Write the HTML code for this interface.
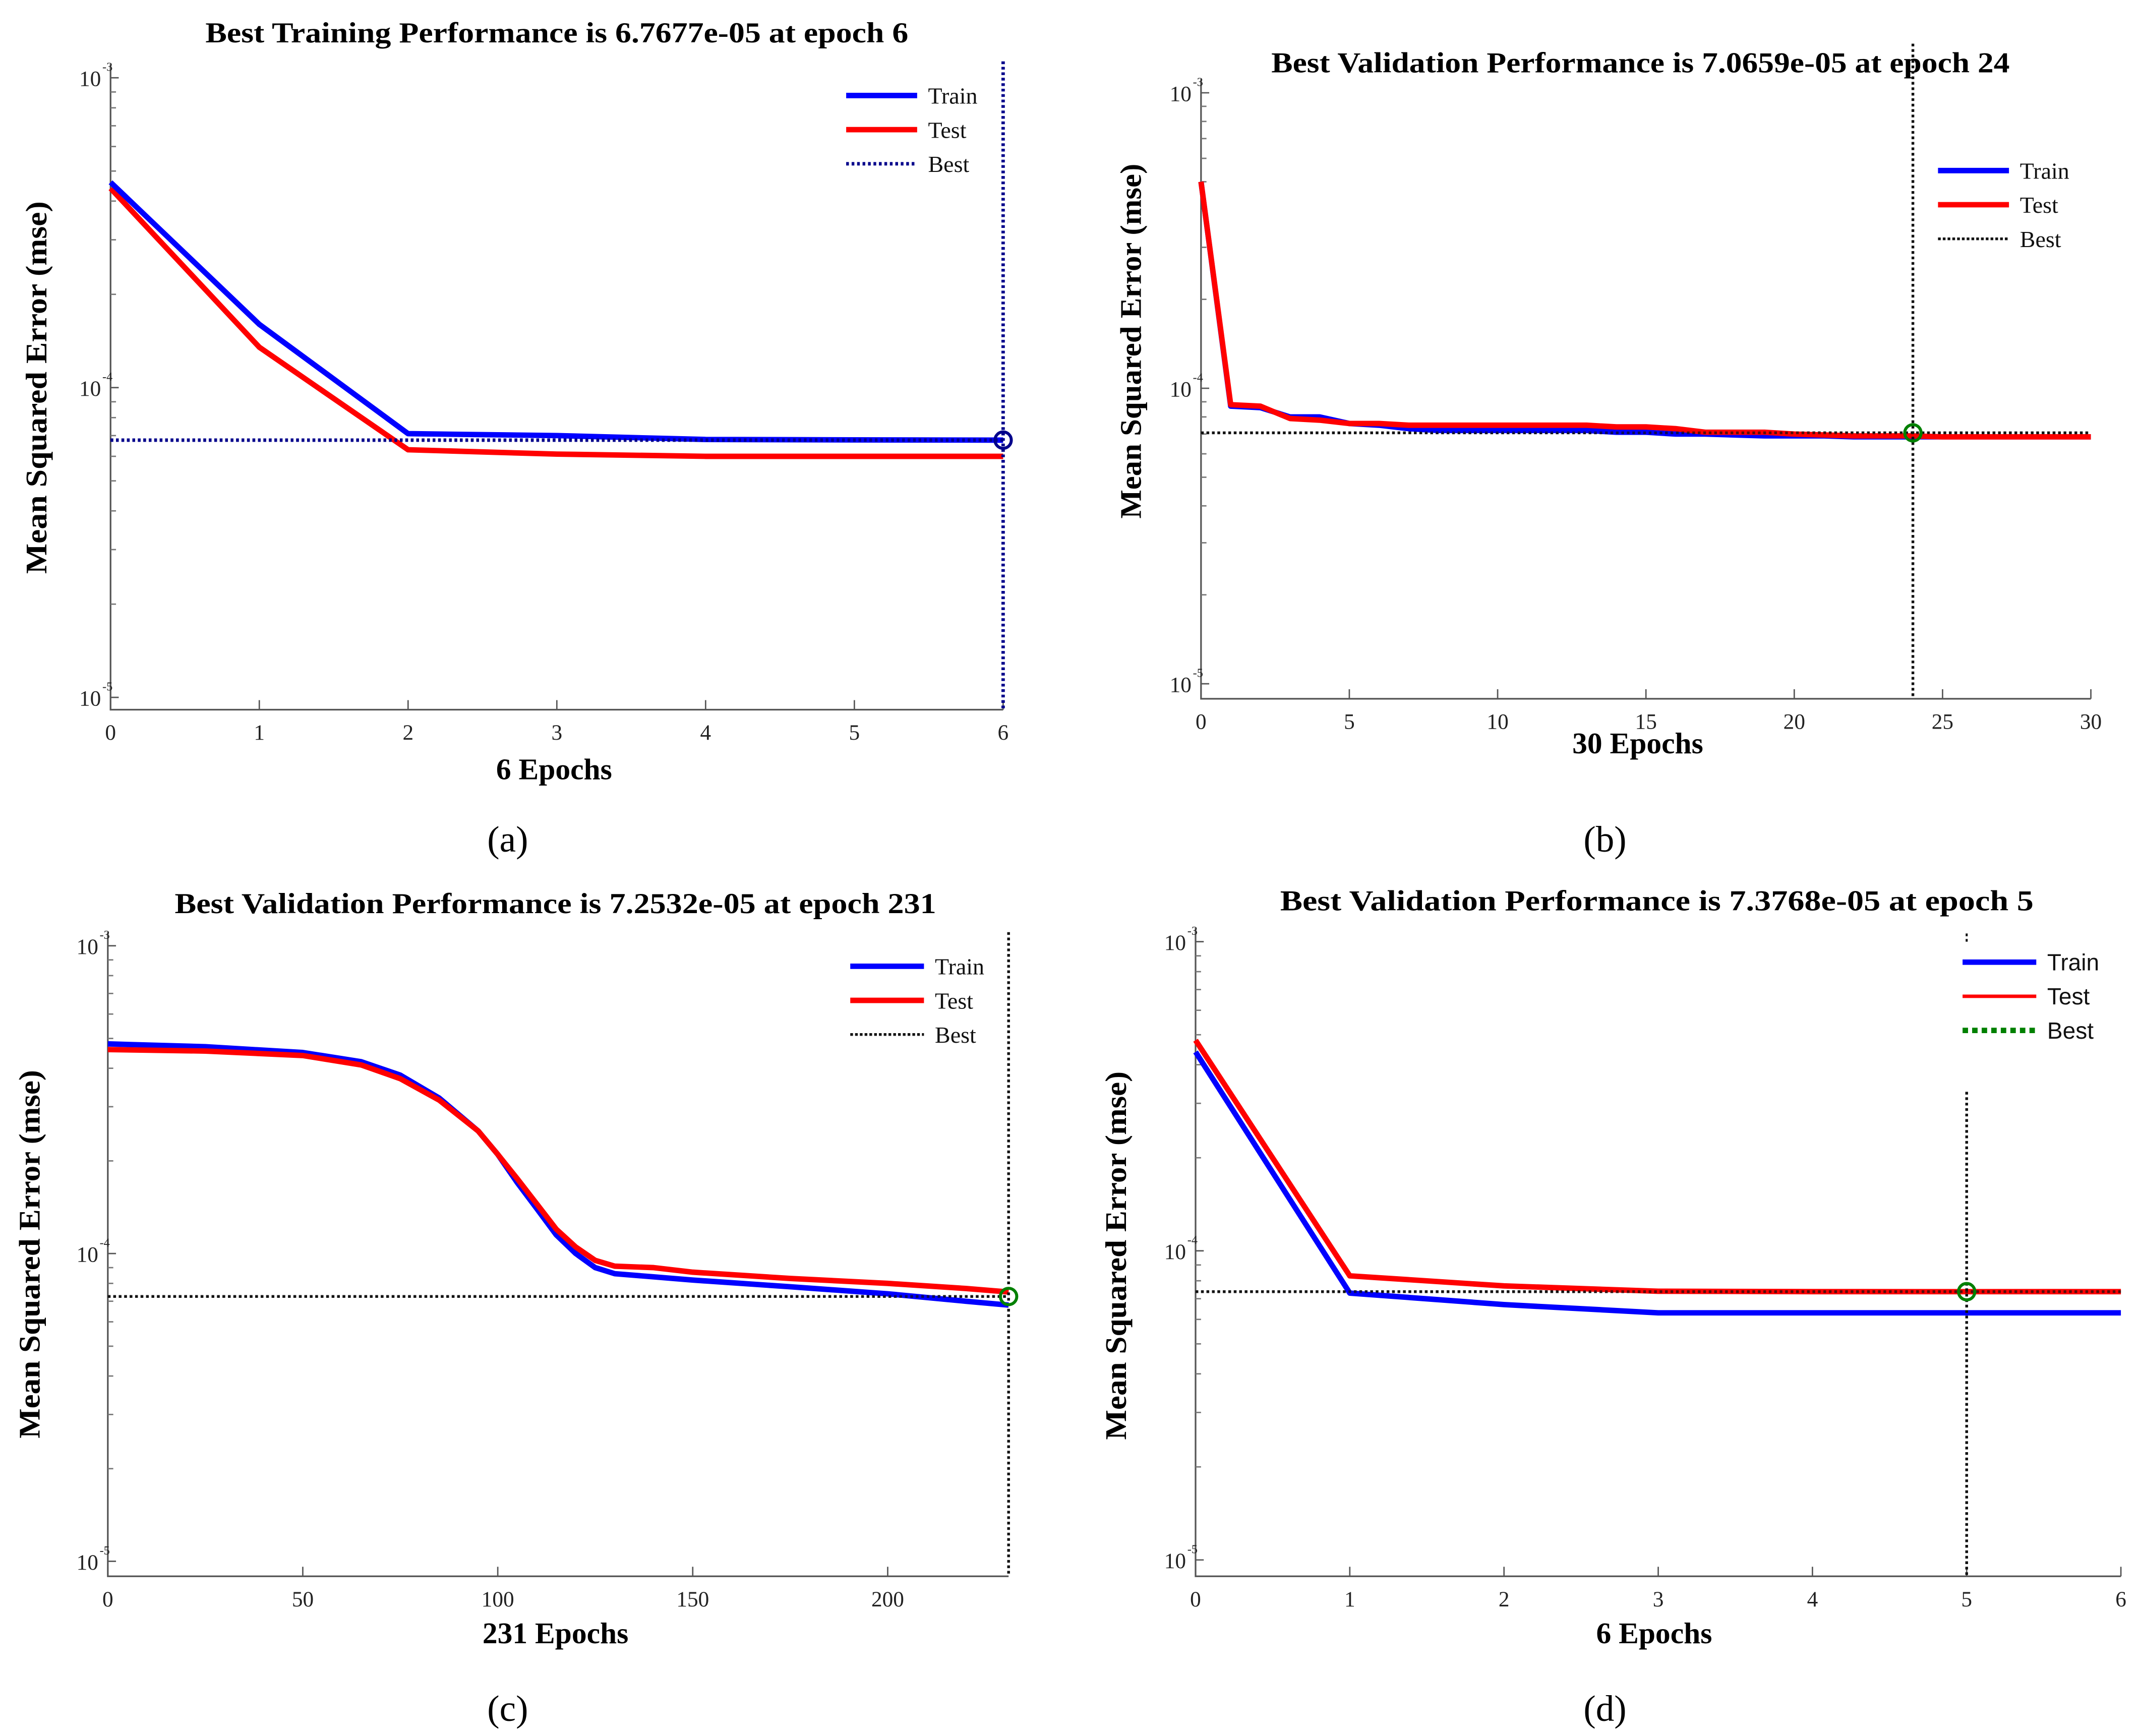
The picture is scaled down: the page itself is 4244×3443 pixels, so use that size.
<!DOCTYPE html>
<html><head><meta charset="utf-8">
<style>
html,body{margin:0;padding:0;background:#fff;}
svg{display:block;}
text{font-family:"Liberation Serif",serif;}
</style></head>
<body>
<svg id="fig" xmlns="http://www.w3.org/2000/svg" width="4244" height="3443" viewBox="0 0 1568 1272" preserveAspectRatio="none">
<rect width="1568" height="1272" fill="#fff"/>
</svg>
<script>
// ---- panel (a) data ----
const aEpochs = [0,1,2,3,4,5,6];
const aTrain = [4.6e-4,1.6e-4,7.1e-5,7.0e-5,6.8e-5,6.78e-5,6.7677e-5];
const aTest = [4.4e-4,1.35e-4,6.3e-5,6.1e-5,6.0e-5,6.0e-5,6.0e-5];
const aBest = [6, 6.7677e-5];
const aXTicks = [0,1,2,3,4,5,6];
// ---- panel (b) data ----
const bEpochs = [0,1,2,3,4,5,6,7,8,9,10,11,12,13,14,15,16,17,18,19,20,21,22,23,24,25,26,27,28,29,30];
const bTrain = [5.0e-4,8.7e-5,8.6e-5,8.0e-5,8.0e-5,7.6e-5,7.5e-5,7.3e-5,7.2e-5,7.2e-5,7.2e-5,7.2e-5,7.2e-5,7.2e-5,7.1e-5,7.1e-5,7.0e-5,7.0e-5,6.95e-5,6.9e-5,6.9e-5,6.9e-5,6.85e-5,6.85e-5,6.85e-5,6.85e-5,6.85e-5,6.85e-5,6.85e-5,6.85e-5,6.85e-5];
const bTest = [5.0e-4,8.8e-5,8.7e-5,7.9e-5,7.8e-5,7.6e-5,7.6e-5,7.5e-5,7.5e-5,7.5e-5,7.5e-5,7.5e-5,7.5e-5,7.5e-5,7.4e-5,7.4e-5,7.3e-5,7.1e-5,7.1e-5,7.1e-5,7.0e-5,6.95e-5,6.9e-5,6.9e-5,6.9e-5,6.85e-5,6.85e-5,6.85e-5,6.85e-5,6.85e-5,6.85e-5];
const bBest = [24, 7.0659e-5];
const bXTicks = [0,5,10,15,20,25,30];
// ---- panel (c) data ----
const cEpochs = [0,25,50,65,75,85,95,100,105,110,115,120,125,130,140,150,175,200,220,231];
const cTrain = [4.8e-4,4.7e-4,4.5e-4,4.2e-4,3.8e-4,3.2e-4,2.5e-4,2.1e-4,1.7e-4,1.4e-4,1.15e-4,1.0e-4,9.0e-5,8.6e-5,8.4e-5,8.2e-5,7.8e-5,7.4e-5,7.0e-5,6.8e-5];
const cTest = [4.6e-4,4.55e-4,4.4e-4,4.1e-4,3.7e-4,3.15e-4,2.5e-4,2.1e-4,1.75e-4,1.45e-4,1.2e-4,1.05e-4,9.5e-5,9.1e-5,9.0e-5,8.7e-5,8.3e-5,8.0e-5,7.7e-5,7.5e-5];
const cBest = [231, 7.2532e-5];
const cXTicks = [0,50,100,150,200];
// ---- panel (d) data ----
const dEpochs = [0,1,2,3,4,5,6];
const dTrain = [4.4e-4,7.3e-5,6.7e-5,6.3e-5,6.3e-5,6.3e-5,6.3e-5];
const dTest = [4.8e-4,8.3e-5,7.7e-5,7.4e-5,7.38e-5,7.3768e-5,7.38e-5];
const dBest = [5, 7.3768e-5];
const dXTicks = [0,1,2,3,4,5,6];

const NS = "http://www.w3.org/2000/svg";
const svg = document.getElementById('fig');
function mk(tag, attrs, parent){
  const e = document.createElementNS(NS, tag);
  for (const k in attrs) e.setAttribute(k, attrs[k]);
  (parent||svg).appendChild(e);
  return e;
}

function panel(cfg){
  const g = mk('g', {});
  
  
  const xs = v => cfg.x0 + (v - cfg.xmin) / (cfg.xmax - cfg.xmin) * (cfg.x1 - cfg.x0);
  const ys = v => cfg.yTop + (-3 - Math.log10(v)) * cfg.dec;
  const base = cfg.base;
  // title
  const t = mk('text', {x: cfg.tx, y: cfg.ty, 'text-anchor':'middle', 'font-size':21, 'font-weight':'bold', textLength:cfg.tw, lengthAdjust:'spacingAndGlyphs'}, g);
  t.textContent = cfg.title;
  
  
  // axes
  const ax = mk('path', {d:`M${cfg.x0},${cfg.yTop-10} L${cfg.x0},${base} L${cfg.x1},${base}`, fill:'none', stroke:'#555', 'stroke-width':1.2}, g);
  
  
  // y ticks
  for (let p=-3; p>=-5; p--){
    const y = ys(Math.pow(10,p));
    mk('line', {x1:cfg.x0, x2:cfg.x0+6, y1:y, y2:y, stroke:'#555', 'stroke-width':1}, g);
    const lt = mk('text', {x:cfg.x0-7, y:y+6, 'text-anchor':'end', 'font-size':16, fill:'#222'}, g);
    lt.textContent = '10';
    
    
    const sp = mk('text', {x:cfg.x0-6, y:y-5, 'text-anchor':'start', 'font-size':9, fill:'#222'}, g);
    sp.textContent = String(p);
    if (p > -5) {
      for (let m=2; m<=9; m++){
        const yy = ys(m*Math.pow(10,p-1));
        mk('line', {x1:cfg.x0, x2:cfg.x0+4, y1:yy, y2:yy, stroke:'#777', 'stroke-width':1}, g);
      }
    }
  }
  // x ticks
  cfg.ticks.forEach(v=>{
    const x = xs(v);
    mk('line', {x1:x, x2:x, y1:base, y2:base-7, stroke:'#555', 'stroke-width':1}, g);
    const tl = mk('text', {x:x, y:base+22, 'text-anchor':'middle', 'font-size':16, fill:'#222'}, g);
    tl.textContent = String(v);
    
    
  });
  // x label
  const xl = mk('text', {x:cfg.xlx, y:cfg.xly, 'text-anchor':'middle', 'font-size':22, 'font-weight':'bold'}, g);
  xl.textContent = cfg.xlabel;
  
  
  // y label
  const yl = mk('text', {x:0, y:0, transform:`translate(${cfg.ylx},${cfg.yly}) rotate(-90)`, 'text-anchor':'middle', 'font-size':22, 'font-weight':'bold', textLength:cfg.yw, lengthAdjust:'spacingAndGlyphs'}, g);
  yl.textContent = 'Mean Squared Error  (mse)';
  
  
  // best lines
  const bx = xs(cfg.best[0]), by = ys(cfg.best[1]);
  const hb = mk('line', {x1:cfg.x0, x2:cfg.x1, y1:by, y2:by, stroke:cfg.bestColor, 'stroke-width':cfg.bw, 'stroke-dasharray':'2,2'}, g);
  
  
  // series
  const path = (arr, ep) => arr.map((v,i)=>(i?'L':'M')+xs(ep[i]).toFixed(2)+','+ys(v).toFixed(2)).join(' ');
  const order = cfg.testOnTop ? [['train','#0000ff',cfg.train],['test','#ff0000',cfg.test]] : [['test','#ff0000',cfg.test],['train','#0000ff',cfg.train]];
  order.forEach(([n,c,arr])=>{
    const p = mk('path', {d:path(arr, cfg.ep), fill:'none', stroke:c, 'stroke-width':cfg.lw, 'stroke-linejoin':'round'}, g);
    
    
  });
  if (cfg.hOverlay){
    mk('line', {x1:cfg.x0, x2:cfg.x1, y1:by, y2:by, stroke:cfg.bestColor, 'stroke-width':2, 'stroke-dasharray':'2,2', opacity:0.7}, g);
  } else {
    mk('line', {x1:cfg.x0, x2:cfg.x1, y1:by, y2:by, stroke:cfg.bestColor, 'stroke-width':cfg.bw, 'stroke-dasharray':'2,2'}, g);
  }
  const vb = mk('line', {x1:bx, x2:bx, y1:cfg.vTop, y2:base, stroke:cfg.bestColor, 'stroke-width':cfg.bw, 'stroke-dasharray':'2,2'}, g);
  
  
  const mkc = mk('circle', {cx:bx, cy:by, r:6, fill:'none', stroke:cfg.circleColor, 'stroke-width':2.2}, g);
  
  
  // legend
  const L = cfg.leg;
  const items = [['Train','#0000ff','solid',L.lw1],['Test','#ff0000','solid',L.lw2],['Best',L.bestColor,'dot',L.lw3]];
  items.forEach((it,i)=>{
    const y = L.y + i*L.dy;
    const ln = mk('line', {x1:L.x, x2:L.x+L.len, y1:y, y2:y, stroke:it[1], 'stroke-width':it[3]}, g);
    if (it[2]==='dot') ln.setAttribute('stroke-dasharray', L.dash);
    
    
    const lt = mk('text', {x:L.x+L.len+8, y:y+6, 'font-size':17, fill:'#111', style: L.sans ? 'font-family:"Liberation Sans",sans-serif' : ''}, g);
    lt.textContent = it[0];
    
    
  });
  // panel letter
  const pl = mk('text', {x:cfg.plx, y:cfg.ply, 'text-anchor':'middle', 'font-size':27}, g);
  pl.textContent = '(' + cfg.id + ')';
  
  
}

panel({id:'a', title:'Best Training Performance is 6.7677e-05 at epoch 6', tx:408, ty:31, tw:515,
  x0:81, x1:735, xmin:0, xmax:6, yTop:57, dec:227, base:520, ticks:aXTicks,
  ep:aEpochs, train:aTrain, test:aTest, best:aBest, bestColor:'#00008b', circleColor:'#00008b', bw:2.5,
  vTop:45, lw:4, testOnTop:false, xlabel:'6 Epochs', xlx:406, xly:571, ylx:34, yly:284, yw:273,
  leg:{x:620, y:70, dy:25, len:52, lw1:4, lw2:4, lw3:2.5, dash:'2,2', bestColor:'#00008b'},
  plx:372, ply:624});

panel({id:'b', title:'Best Validation Performance is 7.0659e-05 at epoch 24', tx:1202, ty:53, tw:541,
  x0:880, x1:1532, xmin:0, xmax:30, yTop:68, dec:216.5, base:512, ticks:bXTicks,
  ep:bEpochs, train:bTrain, test:bTest, best:bBest, bestColor:'#111', circleColor:'#008000', bw:2,
  vTop:32, lw:4, testOnTop:true, hOverlay:true, xlabel:'30 Epochs', xlx:1200, xly:552, ylx:836, yly:250, yw:260,
  leg:{x:1420, y:125, dy:25, len:52, lw1:4, lw2:4, lw3:2, dash:'2,1.5', bestColor:'#111'},
  plx:1176, ply:624});

panel({id:'c', title:'Best Validation Performance is 7.2532e-05 at epoch 231', tx:407, ty:669, tw:558,
  x0:79, x1:739, xmin:0, xmax:231, yTop:693, dec:225.5, base:1155, ticks:cXTicks,
  ep:cEpochs, train:cTrain, test:cTest, best:cBest, bestColor:'#111', circleColor:'#008000', bw:2,
  vTop:683, lw:4, testOnTop:true, hOverlay:true, xlabel:'231 Epochs', xlx:407, xly:1204, ylx:29, yly:919, yw:270,
  leg:{x:623, y:708, dy:25, len:54, lw1:4, lw2:4, lw3:2, dash:'2,1.5', bestColor:'#111'},
  plx:372, ply:1261});

panel({id:'d', title:'Best Validation Performance is 7.3768e-05 at epoch 5', tx:1214, ty:667, tw:552,
  x0:876, x1:1554, xmin:0, xmax:6, yTop:690, dec:226.5, base:1155, ticks:dXTicks,
  ep:dEpochs, train:dTrain, test:dTest, best:dBest, bestColor:'#111', circleColor:'#008000', bw:2,
  vTop:800, lw:4, testOnTop:true, hOverlay:true, xlabel:'6 Epochs', xlx:1212, xly:1204, ylx:825, yly:920, yw:270,
  leg:{x:1438, y:705, dy:25, len:54, lw1:4, lw2:2.5, lw3:4, dash:'4,3', bestColor:'#008000', sans:true},
  plx:1176, ply:1261});
// small mark at top of (d) best vertical
const dm = mk('line', {x1:1441, x2:1441, y1:684, y2:690, stroke:'#111', 'stroke-width':1.5, 'stroke-dasharray':'2,2'});


</script>
</body></html>
